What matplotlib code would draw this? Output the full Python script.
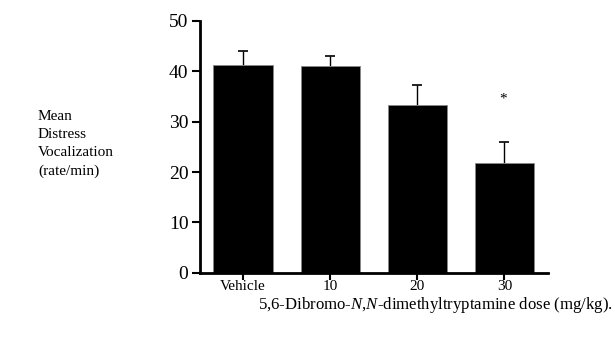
import matplotlib
matplotlib.use("Agg")
import matplotlib.pyplot as plt

categories = ["Vehicle", "10", "20", "30"]
means = [41.3, 41.0, 33.3, 21.7]
errors = [2.8, 2.1, 4.0, 4.2]
yticks = [0, 10, 20, 30, 40, 50]

plt.rcParams['font.family'] = ['Liberation Serif', 'DejaVu Serif']
plt.rcParams['mathtext.fontset'] = 'custom'
plt.rcParams['mathtext.rm'] = 'Liberation Serif'
plt.rcParams['mathtext.it'] = 'Liberation Serif:italic'

fig = plt.figure(figsize=(6.14, 3.37), dpi=100)
ax = fig.add_axes([0.325, 0.1908, 0.5676, 0.7469])

x = list(range(len(categories)))
ax.bar(x, means, width=0.68, color='black', edgecolor='#888888', linewidth=0.6, zorder=2)
eb = ax.errorbar(x, means, yerr=[[0] * len(errors), errors], fmt='none', ecolor='black',
                 elinewidth=1.0, capsize=3.5, capthick=1.2, zorder=1)
caps = eb[1]
if len(caps) >= 2:
    caps[0].set_visible(False)

ax.text(2.98, 34.4, "*", ha='center', va='center', fontsize=11)

ax.set_xlim(-0.5, 3.5)
ax.set_ylim(0, 50)
ax.set_yticks(yticks)
ax.set_yticklabels([str(v) for v in yticks], fontsize=14)
ax.set_xticks(x)
ax.set_xticklabels(categories, fontsize=11)

for s in ['top', 'right']:
    ax.spines[s].set_visible(False)
for s in ['left', 'bottom']:
    ax.spines[s].set_linewidth(2)
ax.tick_params(axis='y', direction='out', length=6, width=1.5, pad=2)
ax.tick_params(axis='x', direction='out', length=5, width=1.5, pad=0)

fig.text(38 / 614, 1 - 144 / 337, "Mean\nDistress\nVocalization\n(rate/min)",
         ha='left', va='center', fontsize=11, linespacing=1.5)

fig.text(435 / 614, 1 - 305 / 337,
         "5,6-Dibromo-$\\it{N}$,$\\it{N}$-dimethyltryptamine dose (mg/kg).",
         ha='center', va='center', fontsize=12.1)

fig.savefig("out.png", dpi=100)
